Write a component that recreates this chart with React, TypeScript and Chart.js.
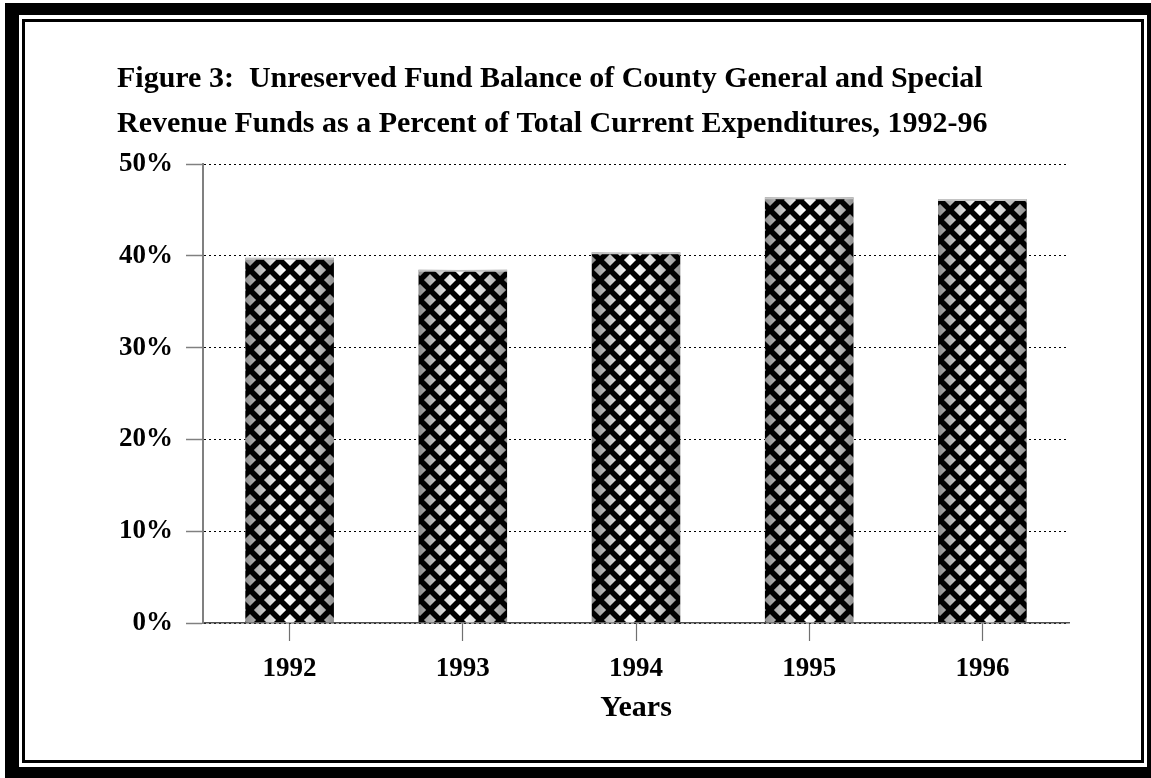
import React, { useEffect, useRef } from 'react';
import { Chart, registerables } from 'chart.js';

Chart.register(...registerables);

const years: string[] = ['1992', '1993', '1994', '1995', '1996'];
const fundBalancePct: number[] = [39.8, 38.5, 40.4, 46.4, 46.2];
const yMin = 0;
const yMax = 50;
const yStep = 10;
const titleLines: string[] = [
  'Figure 3:  Unreserved Fund Balance of County General and Special',
  'Revenue Funds as a Percent of Total Current Expenditures, 1992-96',
];
const xAxisTitle = 'Years';

const FONT = "'Liberation Serif', 'Times New Roman', serif";

function makeLattice(): CanvasPattern | string {
  const W = 20;
  const H = 20;
  const c = document.createElement('canvas');
  c.width = W;
  c.height = H;
  const g = c.getContext('2d');
  if (!g) return '#000';
  g.strokeStyle = '#000';
  g.lineWidth = 5.5;
  for (let k = -3; k <= 3; k++) {
    g.beginPath();
    g.moveTo(k * W - W, -H);
    g.lineTo(k * W + 2 * W, 2 * H);
    g.stroke();
    g.beginPath();
    g.moveTo(k * W + W, -H);
    g.lineTo(k * W - 2 * W, 2 * H);
    g.stroke();
  }
  const p = g.createPattern(c, 'repeat');
  return p || '#000';
}

const cylinderShade = {
  id: 'cylinderShade',
  beforeDatasetsDraw(chart: any) {
    const ctx = chart.ctx as CanvasRenderingContext2D;
    const meta = chart.getDatasetMeta(0);
    meta.data.forEach((bar: any) => {
      const { x, y, base, width } = bar.getProps(['x', 'y', 'base', 'width'], true);
      const left = x - width / 2;
      const grad = ctx.createLinearGradient(left, 0, left + width, 0);
      grad.addColorStop(0, '#8e8e8e');
      grad.addColorStop(0.22, '#c8c8c8');
      grad.addColorStop(0.45, '#ffffff');
      grad.addColorStop(0.75, '#d2d2d2');
      grad.addColorStop(1, '#8e8e8e');
      ctx.save();
      ctx.fillStyle = grad;
      ctx.fillRect(left, y, width, base - y);
      ctx.restore();
    });
  },
};

export default function App() {
  const canvasRef = useRef<HTMLCanvasElement | null>(null);

  useEffect(() => {
    const canvas = canvasRef.current;
    if (!canvas) return;
    const lattice = makeLattice();
    const chart = new Chart(canvas, {
      type: 'bar',
      data: {
        labels: years,
        datasets: [
          {
            data: fundBalancePct,
            backgroundColor: lattice as any,
            borderColor: '#c4c4c4',
            borderWidth: { top: 2, left: 0, right: 0, bottom: 0 } as any,
            borderSkipped: false,
            barPercentage: 0.512,
            categoryPercentage: 1,
          },
        ],
      },
      plugins: [cylinderShade],
      options: {
        animation: false,
        responsive: false,
        maintainAspectRatio: false,
        layout: { padding: { left: 87, right: 51, top: 0, bottom: 0 } },
        plugins: {
          legend: { display: false },
          tooltip: { enabled: false },
          title: {
            display: true,
            text: titleLines,
            align: 'start',
            color: '#000',
            font: { family: FONT, size: 30, weight: 'bold', lineHeight: 1.52 },
            padding: { top: 26, bottom: 17 },
          },
        },
        scales: {
          x: {
            afterFit: (scale: any) => {
              scale.height = 107;
            },
            grid: {
              display: true,
              drawOnChartArea: false,
              drawTicks: true,
              tickLength: 18,
              offset: false,
              color: '#707070',
              tickColor: '#707070',
              tickWidth: 1.2,
            },
            border: { display: true, color: '#505050', width: 1.5 },
            ticks: {
              color: '#000',
              padding: 12,
              font: { family: FONT, size: 27, weight: 'bold' },
            },
            title: {
              display: true,
              text: xAxisTitle,
              color: '#000',
              font: { family: FONT, size: 30, weight: 'bold' },
              padding: { top: 4, bottom: 4 },
            },
          },
          y: {
            min: yMin,
            max: yMax,
            afterFit: (scale: any) => {
              scale.width = 86;
            },
            grid: {
              display: true,
              drawOnChartArea: true,
              drawTicks: true,
              tickLength: 17,
              color: '#000',
              lineWidth: 1,
              tickColor: '#808080',
              tickWidth: 1.5,
              tickBorderDash: [],
            },
            border: { display: true, color: '#808080', width: 2, dash: [2, 3] },
            ticks: {
              stepSize: yStep,
              color: '#000',
              padding: 13,
              font: { family: FONT, size: 27, weight: 'bold' },
              callback: (v: any) => `${v}%`,
            },
          },
        },
      },
    });
    return () => {
      chart.destroy();
    };
  }, []);

  return (
    <div
      style={{
        position: 'fixed',
        left: 0,
        top: 0,
        width: 1151,
        height: 778,
        background: '#fff',
        overflow: 'hidden',
      }}
    >
      <div
        style={{
          position: 'absolute',
          left: 5,
          top: 3,
          width: 1146,
          height: 775,
          background: '#000',
        }}
      />
      <div
        style={{
          position: 'absolute',
          left: 19,
          top: 15,
          width: 1128,
          height: 752,
          background: '#fff',
        }}
      />
      <div
        style={{
          position: 'absolute',
          left: 22,
          top: 19,
          width: 1122,
          height: 744,
          boxSizing: 'border-box',
          border: '3px solid #000',
          background: '#fff',
        }}
      />
      <canvas
        ref={canvasRef}
        width={1090}
        height={700}
        style={{ position: 'absolute', left: 30, top: 30, width: 1090, height: 700 }}
      />
    </div>
  );
}
